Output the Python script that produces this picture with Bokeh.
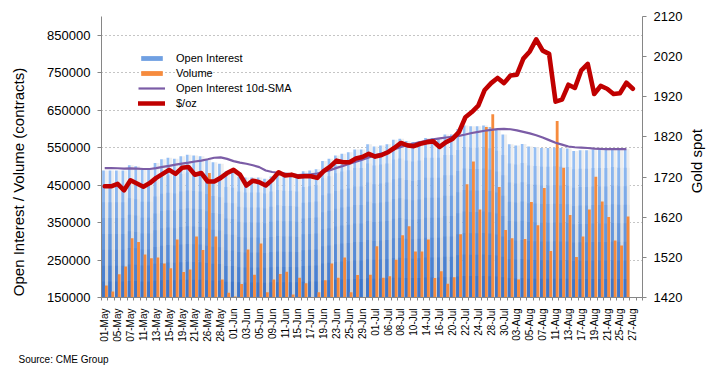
from math import pi
from bokeh.plotting import figure
from bokeh.models import (Range1d, LinearAxis, FixedTicker, Legend, LegendItem,
                          Title, BasicTickFormatter)
from bokeh.embed import file_html
from bokeh.resources import INLINE

# ---------------- data ----------------
dates = ["01-May", "04-May", "05-May", "06-May", "07-May", "08-May", "11-May", "12-May", "13-May", "14-May",
         "15-May", "18-May", "19-May", "20-May", "21-May", "22-May", "26-May", "27-May", "28-May", "29-May",
         "01-Jun", "02-Jun", "03-Jun", "04-Jun", "05-Jun", "08-Jun", "09-Jun", "10-Jun", "11-Jun", "12-Jun",
         "15-Jun", "16-Jun", "17-Jun", "18-Jun", "19-Jun", "22-Jun", "23-Jun", "24-Jun", "25-Jun", "26-Jun",
         "29-Jun", "30-Jun", "01-Jul", "02-Jul", "06-Jul", "07-Jul", "08-Jul", "09-Jul", "10-Jul", "13-Jul",
         "14-Jul", "15-Jul", "16-Jul", "17-Jul", "20-Jul", "21-Jul", "22-Jul", "23-Jul", "24-Jul", "27-Jul",
         "28-Jul", "29-Jul", "30-Jul", "31-Jul", "03-Aug", "04-Aug", "05-Aug", "06-Aug", "07-Aug", "10-Aug",
         "11-Aug", "12-Aug", "13-Aug", "14-Aug", "17-Aug", "18-Aug", "19-Aug", "20-Aug", "21-Aug", "24-Aug",
         "25-Aug", "26-Aug", "27-Aug", "28-Aug"]

open_interest = [489000, 489000, 489000, 489000, 503000, 500000, 491000, 491000, 509000, 519000,
                 523000, 520000, 527000, 531000, 529000, 527000, 518000, 511000, 507000, 487000,
                 485000, 473000, 470000, 470000, 470000, 467000, 473000, 478000, 476000, 476000,
                 473000, 487000, 489000, 492000, 514000, 520000, 529000, 534000, 538000, 545000,
                 545000, 559000, 553000, 556000, 559000, 571000, 574000, 568000, 565000, 568000,
                 576000, 576000, 576000, 585000, 585000, 600000, 609000, 607000, 607000, 609000,
                 605000, 598000, 585000, 559000, 556000, 560000, 553000, 551000, 549000, 549000,
                 550000, 549000, 548000, 541000, 543000, 543000, 545000, 545000, 545000, 548000,
                 546000, 546000]

volume = [182000, 166000, 212000, 233000, 308000, 298000, 265000, 255000, 257000, 241000,
          228000, 305000, 218000, 225000, 313000, 277000, 482000, 313000, 198000, 163000,
          153000, 186000, 278000, 211000, 294000, 164000, 198000, 213000, 219000, 158000,
          203000, 188000, 145000, 164000, 196000, 241000, 203000, 257000, 164000, 210000,
          145000, 211000, 287000, 203000, 207000, 251000, 316000, 340000, 273000, 273000,
          305000, 202000, 220000, 187000, 204000, 319000, 452000, 513000, 385000, 605000,
          639000, 445000, 330000, 308000, 198000, 306000, 405000, 343000, 442000, 274000,
          621000, 496000, 370000, 258000, 313000, 385000, 472000, 406000, 365000, 302000,
          289000, 366000]

oi_sma10 = [495500, 495500, 495000, 494000, 494500, 494000, 493000, 493000, 495500, 498500,
            501500, 504500, 507500, 510000, 513000, 515500, 519000, 523000, 524000, 520000,
            514000, 510000, 507000, 503000, 498000, 489000, 485000, 483000, 481000, 479000,
            477000, 478000, 479000, 481000, 486000, 490000, 496000, 501000, 507000, 512500,
            518000, 524000, 530000, 534500, 539000, 545500, 552000, 556500, 561000, 565000,
            568500, 572000, 574500, 577000, 579000, 581500, 585000, 589000, 592000, 595000,
            597500, 599500, 600000, 599000, 596000, 592000, 588000, 583000, 577000, 570000,
            563000, 558000, 553000, 551000, 550000, 549000, 547500, 546500, 546000, 546000,
            546000, 546000]

gold_spot = [1697, 1697, 1703, 1687, 1712, 1704, 1696, 1705, 1718, 1728,
             1738, 1728, 1743, 1745, 1726, 1730, 1709, 1709, 1718, 1730,
             1738, 1726, 1699, 1711, 1707, 1699, 1713, 1732, 1724, 1726,
             1721, 1722, 1722, 1718, 1735, 1746, 1761, 1757, 1757, 1766,
             1770, 1778, 1771, 1775, 1782, 1793, 1805, 1799, 1797, 1803,
             1807, 1809, 1795, 1807, 1815, 1832, 1869, 1882, 1898, 1937,
             1954, 1967, 1954, 1973, 1975, 2015, 2033, 2063, 2035, 2027,
             1908, 1913, 1950, 1942, 1986, 2002, 1927, 1947, 1940, 1927,
             1929, 1955, 1940]

left_ticks = [150000, 250000, 350000, 450000, 550000, 650000, 750000, 850000]
right_ticks = [1420, 1520, 1620, 1720, 1820, 1920, 2020, 2120]

FONT = "Liberation Sans"
BASE = 150000
NBSP = "\u00a0"

# ---------------- figure ----------------
p = figure(width=719, height=373, output_backend="svg", toolbar_location=None,
           x_range=Range1d(-0.5, len(dates) - 0.5), y_range=Range1d(150000, 900000),
           min_border_left=101, min_border_right=77, min_border_top=16, min_border_bottom=76)
p.extra_y_ranges = {"gold": Range1d(1420, 2120)}
p.outline_line_color = None
p.xgrid.visible = False
p.ygrid.ticker = FixedTicker(ticks=left_ticks)
p.ygrid.grid_line_color = "#8a8a8a"
p.ygrid.grid_line_dash = "1 3"
p.ygrid.grid_line_width = 1


def mix(c1, c2, t):
    return "#%02x%02x%02x" % tuple(int(round(a + (b - a) * t)) for a, b in zip(c1, c2))


n = len(open_interest)
idx = list(range(n))
x_blue = [i - 0.19 for i in idx]
x_orange = [i + 0.25 for i in idx]

# gray shadow bars (gradient) behind volume
N = 8
g_light, g_dark = (238, 238, 238), (206, 206, 206)
for k in range(N, 0, -1):
    f = k / N
    tops = [BASE + (v - BASE) * f for v in open_interest]
    p.vbar(x=x_orange, width=0.46, bottom=BASE, top=tops,
           fill_color=mix(g_dark, g_light, f), line_color=None)

# blue open interest bars (gradient)
b_light, b_dark = (150, 191, 244), (50, 108, 196)
blue_renderers = []
for k in range(N, 0, -1):
    f = k / N
    tops = [BASE + (v - BASE) * f for v in open_interest]
    r = p.vbar(x=x_blue, width=0.42, bottom=BASE, top=tops,
               fill_color=mix(b_dark, b_light, f), line_color=None)
    blue_renderers.append(r)

# orange volume bars
r_vol = p.vbar(x=x_orange, width=0.44, bottom=BASE, top=volume,
               fill_color="#f68b3d", line_color=None)

# SMA line
r_sma = p.line(x=idx, y=oi_sma10, line_color="#7b5ca6", line_width=2.2)

# Gold spot
r_gold = p.line(x=list(range(len(gold_spot))), y=gold_spot, y_range_name="gold",
                line_color="#c00000", line_width=4.6, line_join="round", line_cap="round")

# ---------------- axes ----------------
xa = p.xaxis[0]
xa.ticker = FixedTicker(ticks=list(range(0, len(dates), 2)),
                        minor_ticks=[i - 0.5 for i in range(len(dates) + 1)])
xa.major_label_overrides = {i: dates[i] for i in range(0, len(dates), 2)}
xa.major_label_orientation = pi / 2
xa.major_label_text_font = FONT
xa.major_label_text_font_size = "10px"
xa.major_label_text_color = "#000000"
xa.major_tick_line_color = None
xa.minor_tick_out = 3
xa.minor_tick_in = 0
xa.minor_tick_line_color = "#868686"
xa.axis_line_color = "#868686"
xa.major_label_standoff = 5

ya = p.yaxis[0]
ya.ticker = FixedTicker(ticks=left_ticks)
ya.formatter = BasicTickFormatter(use_scientific=False)
ya.major_label_text_font = FONT
ya.major_label_text_font_size = "13px"
ya.major_label_text_color = "#000000"
ya.major_tick_out = 4
ya.major_tick_in = 0
ya.major_tick_line_color = "#868686"
ya.minor_tick_line_color = None
ya.axis_line_color = "#868686"
ya.major_label_standoff = 7
# trailing no-break spaces shift the centred title down, as in the original
ya.axis_label = "Open Interest / Volume (contracts)" + NBSP * 12
ya.axis_label_text_font = FONT
ya.axis_label_text_font_size = "15px"
ya.axis_label_text_font_style = "normal"
ya.axis_label_text_color = "#000000"
ya.axis_label_standoff = 17

ra = LinearAxis(y_range_name="gold", ticker=FixedTicker(ticks=right_ticks),
                axis_label=NBSP * 25 + "Gold spot")
ra.major_label_text_font = FONT
ra.major_label_text_font_size = "13px"
ra.major_label_text_color = "#000000"
ra.major_tick_out = 4
ra.major_tick_in = 0
ra.major_tick_line_color = "#868686"
ra.minor_tick_line_color = None
ra.axis_line_color = "#868686"
ra.major_label_standoff = 7
ra.axis_label_text_font = FONT
ra.axis_label_text_font_size = "15px"
ra.axis_label_text_font_style = "normal"
ra.axis_label_text_color = "#000000"
ra.axis_label_standoff = 11
if hasattr(ra, "axis_label_orientation"):
    ra.axis_label_orientation = pi / 2
if hasattr(ra, "axis_label_align"):
    ra.axis_label_align = "start"
p.add_layout(ra, "right")

# source note
p.add_layout(Title(text="Source: CME Group", align="left", offset=-83, standoff=14,
                   text_font=FONT, text_font_size="10px", text_font_style="normal",
                   text_color="#000000"), "below")

# ---------------- legend ----------------
legend = Legend(items=[
    LegendItem(label="Open Interest", renderers=[blue_renderers[3]]),
    LegendItem(label="Volume", renderers=[r_vol]),
    LegendItem(label="Open Interest 10d-SMA", renderers=[r_sma]),
    LegendItem(label="$/oz", renderers=[r_gold]),
], location=(37, 188), orientation="vertical")
legend.glyph_width = 27
legend.glyph_height = 6
legend.label_standoff = 11
legend.label_height = 12
legend.spacing = 3
legend.padding = 0
legend.margin = 0
legend.border_line_color = None
legend.background_fill_alpha = 0
legend.label_text_font = FONT
legend.label_text_font_size = "11px"
legend.label_text_color = "#000000"
p.add_layout(legend, "center")

open("out.html", "w").write(file_html(p, INLINE))
